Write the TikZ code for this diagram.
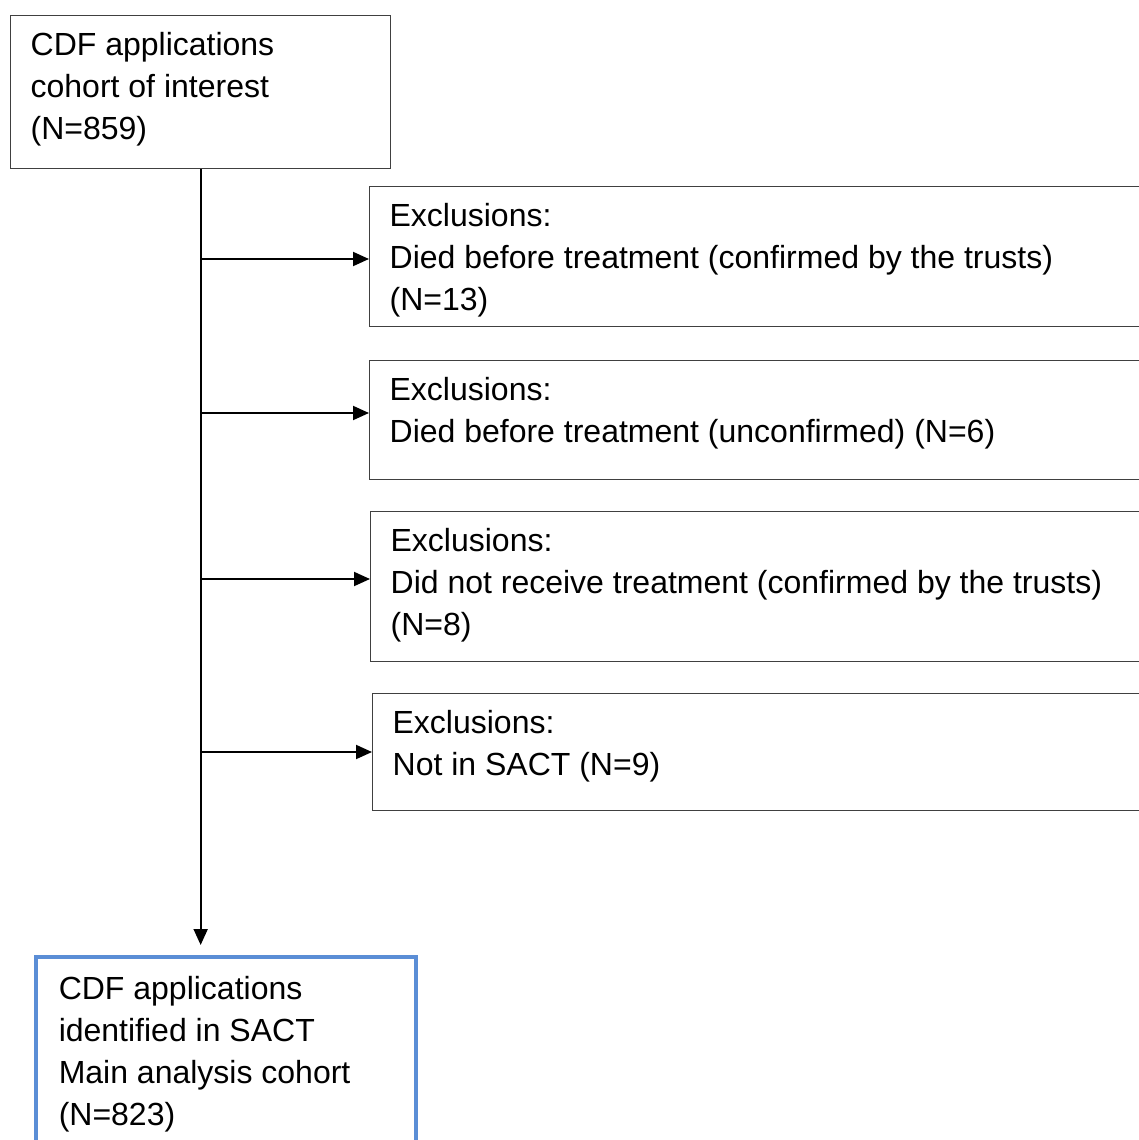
\documentclass[tikz,border=0pt]{standalone}
\usepackage{fontspec}
\setmainfont{Liberation Sans}
\usepackage{tikz}
\usetikzlibrary{arrows.meta}

\definecolor{cohortblue}{RGB}{91,142,214}
\definecolor{boxgrey}{RGB}{64,64,64}

% fixed height text block, lines start at the top
\newcommand{\boxtext}[3]{\parbox[t][#1][t]{#2}{#3}}

\tikzset{
  flowbox/.style={draw=boxgrey, line width=1.3pt, anchor=north west,
    inner xsep=20pt, inner ysep=17pt, font=\fontsize{32}{42}\selectfont},
  mainbox/.style={flowbox, draw=cohortblue, line width=3.5pt, inner xsep=23pt, inner ysep=20pt},
  arr/.style={line width=1.9pt, -{Triangle[length=16pt,width=14pt]}}
}

\begin{document}
\begin{tikzpicture}[x=1pt,y=-1pt]
        \useasboundingbox (0,0) rectangle (1139,1140);
        \node[flowbox] (start) at (10,15) {\boxtext{119pt}{340pt}{CDF applications\\cohort of interest\\(N=859)}};
        \node[flowbox] (ex1) at (369,186) {\boxtext{106pt}{760pt}{Exclusions:\\Died before treatment (confirmed by the trusts)\\(N=13)}};
        \node[flowbox] (ex2) at (369,360) {\boxtext{85pt}{760pt}{Exclusions:\\Died before treatment (unconfirmed) (N=6)}};
        \node[flowbox] (ex3) at (370,511) {\boxtext{116pt}{760pt}{Exclusions:\\Did not receive treatment (confirmed by the trusts)\\(N=8)}};
        \node[flowbox] (ex4) at (372,693) {\boxtext{83pt}{760pt}{Exclusions:\\Not in SACT (N=9)}};
        \node[mainbox] (final) at (34,955) {\boxtext{170pt}{334pt}{CDF applications\\identified in SACT\\Main analysis cohort\\(N=823)}};
        % trunk and branches
        \draw[arr] (start.south) -- ([yshift=10pt]start.south |- final.north);
        \coordinate (b1) at (201,259);
        \coordinate (b2) at (201,413);
        \coordinate (b3) at (201,579);
        \coordinate (b4) at (201,752);
        \draw[arr] (b1) -- (b1 -| ex1.west);
        \draw[arr] (b2) -- (b2 -| ex2.west);
        \draw[arr] (b3) -- (b3 -| ex3.west);
        \draw[arr] (b4) -- (b4 -| ex4.west);
      \end{tikzpicture}
\end{document}
